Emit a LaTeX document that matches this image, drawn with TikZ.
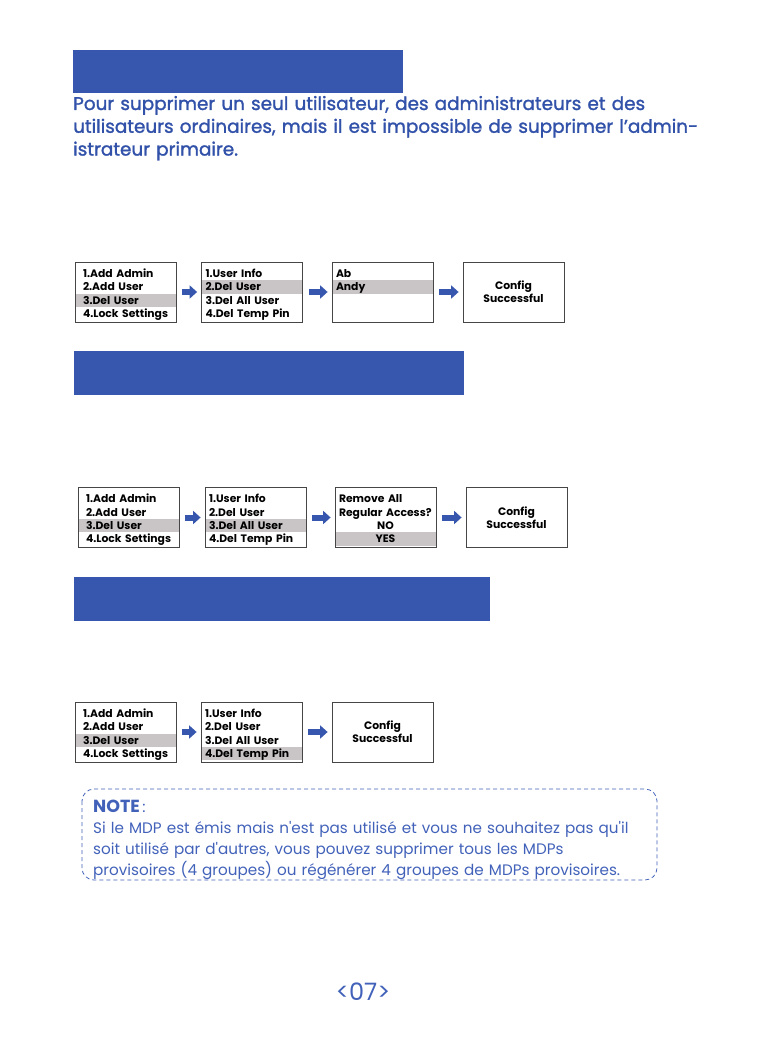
\documentclass[tikz,border=0pt]{standalone}
\usepackage{fontspec}
\setmainfont{Poppins}
\newfontfamily\introfont{Poppins}[FakeBold=1.4]
\usetikzlibrary{arrows.meta,positioning}
\definecolor{headblue}{RGB}{55,87,174}
\definecolor{textblue}{RGB}{50,82,170}
\definecolor{noteblue}{RGB}{66,98,186}
\definecolor{rowgray}{RGB}{201,197,198}
\definecolor{framegray}{RGB}{70,70,70}
\tikzset{
  header/.style={fill=headblue},
  intro/.style={anchor=base west, inner sep=0pt, text width=660pt,
                align=left, text=textblue,
                font=\introfont\fontsize{18.4}{22.8}\selectfont},
  screen/.style={draw=framegray, line width=0.8pt, fill=white,
                 minimum width=101pt, minimum height=60pt,
                 inner ysep=0pt, inner xsep=4pt, text width=93pt,
                 align=left, text=black,
                 font=\fontsize{10.8}{13.3}\selectfont\bfseries,
                 execute at begin node={\hyphenpenalty=10000\rule{0pt}{15.4pt}},
                 execute at end node={\rule[-4.6pt]{0pt}{0pt}}},
  menu/.style={screen,
               execute at begin node={\hyphenpenalty=10000\leftskip=4pt\rule{0pt}{15.4pt}}},
  done/.style={draw=framegray, line width=0.8pt, fill=white,
               minimum width=101pt, minimum height=60pt,
               align=center, text=black,
               font=\fontsize{10.8}{13.3}\selectfont\bfseries},
  pick/.style={path picture={
    \fill[rowgray]
      ([yshift={-5pt-13.3pt*(#1-1)}]path picture bounding box.north west)
      rectangle
      ([yshift={-5pt-13.3pt*#1}]path picture bounding box.north east);}},
  flow/.style={headblue, line width=6pt,
               -{Triangle[length=7.5pt,width=13pt]},
               shorten <=6pt, shorten >=4pt},
  notebox/.style={draw=noteblue, line width=0.8pt, dashed,
                  dash pattern=on 4pt off 3pt, rounded corners=12pt},
  notetext/.style={anchor=base west, inner sep=0pt, text width=570pt,
                   align=left, text=noteblue,
                   font=\fontsize{15.2}{21}\selectfont},
  pagenum/.style={text=noteblue, font=\fontsize{24}{24}\selectfont},
}

\begin{document}
\begin{tikzpicture}[x=1pt,y=-1pt]
  \path[use as bounding box, fill=white] (0,0) rectangle (757,1040);

  % Del User
  \fill[header] (73,50) rectangle (403,93);
  \node[intro] (introtext) at (73,110)
    {Pour supprimer un seul utilisateur, des administrateurs et des\\
     utilisateurs ordinaires, mais il est impossible de supprimer l’admin-\\
     istrateur primaire.};

  \node[menu, pick=3] (mainA) at (125.5,292)
    {1.Add Admin\\2.Add User\\3.Del User\\4.Lock Settings};
  \node[screen, pick=2] (userA) at (252,292)
    {1.User Info\\2.Del User\\3.Del All User\\4.Del Temp Pin};
  \node[screen, pick=2] (listA) at (382.5,292)
    {Ab\\Andy\\~\\~};
  \node[done] (okA) at (513.5,292) {Config\\Successful};
  \draw[flow] (mainA) -- (userA);
  \draw[flow] (userA) -- (listA);
  \draw[flow] (listA) -- (okA);

  % Del All User
  \fill[header] (74,351) rectangle (464,395);

  \node[menu, pick=3] (mainB) at (128.5,517.5)
    {1.Add Admin\\2.Add User\\3.Del User\\4.Lock Settings};
  \node[screen, pick=3] (userB) at (255.5,517.5)
    {1.User Info\\2.Del User\\3.Del All User\\4.Del Temp Pin};
  \node[screen, pick=4] (askB) at (385.5,517.5)
    {Remove All\\Regular Access?\\\makebox[\linewidth]{NO}\\\makebox[\linewidth]{YES}};
  \node[done] (okB) at (516.5,517.5) {Config\\Successful};
  \draw[flow] (mainB) -- (userB);
  \draw[flow] (userB) -- (askB);
  \draw[flow] (askB) -- (okB);

  % Del Temp Pin
  \fill[header] (74,577) rectangle (490,621);

  \node[menu, pick=3] (mainC) at (125.5,732)
    {1.Add Admin\\2.Add User\\3.Del User\\4.Lock Settings};
  \node[screen, pick=4] (userC) at (251.5,732)
    {1.User Info\\2.Del User\\3.Del All User\\4.Del Temp Pin};
  \node[done] (okC) at (382.5,732) {Config\\Successful};
  \draw[flow] (mainC) -- (userC);
  \draw[flow] (userC) -- (okC);

  % Note
  \draw[notebox] (82,789) rectangle (657,880);
  \node[notetext] (note) at (93,812)
    {{\fontsize{17.5}{21}\selectfont\bfseries NOTE}\,:\\
     Si le MDP est émis mais n\textquotesingle est pas utilisé et vous ne souhaitez pas qu\textquotesingle il\\
     soit utilisé par d\textquotesingle autres, vous pouvez supprimer tous les MDPs\\
     provisoires (4 groupes) ou régénérer 4 groupes de MDPs provisoires.};

  \node[pagenum] (page) at (363,992) {<07>};
\end{tikzpicture}
\end{document}
